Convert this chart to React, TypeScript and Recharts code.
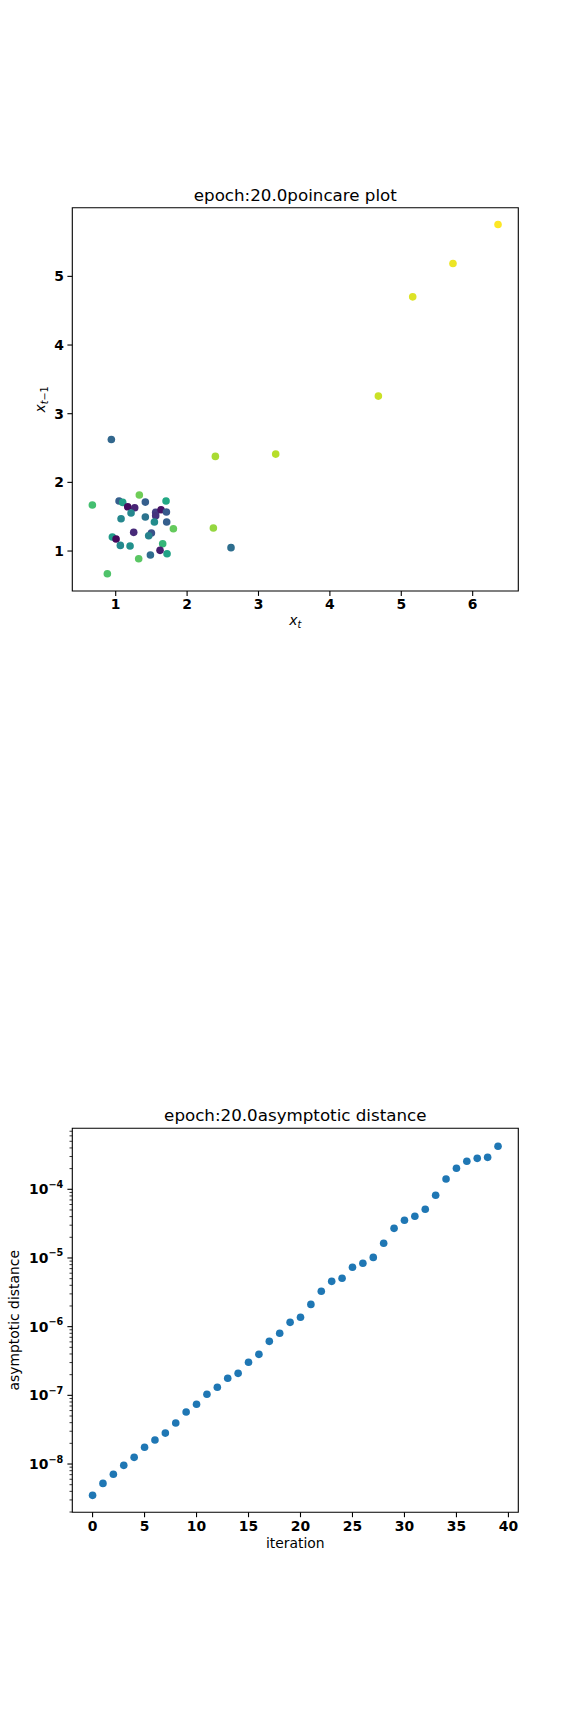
import React from "react";
import { ScatterChart, Scatter, XAxis, YAxis, Cell, ReferenceArea } from "recharts";

// poincare plot: x_t against x_{t-1}
const poincareXt = [
  6.355, 5.724, 5.16, 4.679, 3.241, 2.396, 2.368, 0.939, 2.615, 1.331,
  0.673, 0.883, 1.808, 1.322, 1.705, 1.658, 1.719, 1.047, 1.098, 1.168,
  1.266, 1.415, 1.215, 1.075, 1.415, 1.56, 1.56, 1.635, 1.71, 1.542,
  1.714, 1.252, 1.5, 1.462, 0.953, 1.005, 1.065, 1.201, 1.621, 1.486,
];
const poincareXprev = [
  5.755, 5.187, 4.702, 3.256, 2.412, 2.378, 1.335, 2.625, 1.049, 1.815,
  1.67, 0.67, 1.325, 0.888, 1.728, 1.107, 0.961, 1.728, 1.708, 1.645,
  1.631, 1.713, 1.553, 1.471, 1.495, 1.563, 1.514, 1.602, 1.568, 1.422,
  1.422, 1.272, 1.262, 1.223, 1.204, 1.175, 1.082, 1.073, 1.01, 0.942,
];
// colour value of each point (viridis 0..1)
const poincareLevel = [
  1.0, 0.975, 0.95, 0.92, 0.89, 0.87, 0.84, 0.33, 0.36, 0.78,
  0.7, 0.72, 0.76, 0.74, 0.6, 0.66, 0.58, 0.3, 0.56, 0.03,
  0.1, 0.3, 0.46, 0.46, 0.38, 0.18, 0.15, 0.05, 0.28, 0.48,
  0.3, 0.12, 0.25, 0.44, 0.54, 0.02, 0.47, 0.5, 0.08, 0.35,
];
const xtTicks = [1, 2, 3, 4, 5, 6];
const xprevTicks = [1, 2, 3, 4, 5];

// asymptotic distance per iteration
const iterations = [
  0, 1, 2, 3, 4, 5, 6, 7, 8, 9, 10, 11, 12, 13, 14, 15, 16, 17, 18, 19,
  20, 21, 22, 23, 24, 25, 26, 27, 28, 29, 30, 31, 32, 33, 34, 35, 36, 37, 38, 39,
];
const asymptoticDistance = [
  3.5e-9, 5.22e-9, 7.08e-9, 9.57e-9, 1.25e-8, 1.75e-8, 2.24e-8, 2.82e-8, 3.95e-8, 5.71e-8,
  7.4e-8, 1.035e-7, 1.31e-7, 1.77e-7, 2.09e-7, 3.03e-7, 3.95e-7, 6.11e-7, 8.0e-7, 1.156e-6,
  1.37e-6, 2.11e-6, 3.27e-6, 4.57e-6, 5.06e-6, 7.31e-6, 8.36e-6, 1.02e-5, 1.64e-5, 2.7e-5,
  3.54e-5, 4.05e-5, 5.12e-5, 8.18e-5, 1.41e-4, 2.02e-4, 2.56e-4, 2.82e-4, 2.92e-4, 4.23e-4,
];
const iterationTicks = [0, 5, 10, 15, 20, 25, 30, 35, 40];
const distanceDecades = [-9, -8, -7, -6, -5, -4];

const FONT = "DejaVu Sans";
const TICK_FS = 13.9;

const VIRIDIS = [
  "#440154", "#482475", "#414487", "#355f8d", "#2a788e", "#21918c",
  "#22a884", "#44bf70", "#7ad151", "#bddf26", "#fde725",
];
const hex = (h: string) => [1, 3, 5].map((i) => parseInt(h.slice(i, i + 2), 16));
const viridis = (t: number) => {
  const v = Math.max(0, Math.min(1, t)) * (VIRIDIS.length - 1);
  const i = Math.min(Math.floor(v), VIRIDIS.length - 2);
  const f = v - i;
  const a = hex(VIRIDIS[i]);
  const b = hex(VIRIDIS[i + 1]);
  const c = a.map((av, k) => Math.round(av + (b[k] - av) * f));
  return `rgb(${c[0]},${c[1]},${c[2]})`;
};

const poincareData = poincareXt.map((x, i) => ({
  x,
  y: poincareXprev[i],
  color: viridis(poincareLevel[i]),
}));
const distanceData = iterations.map((x, i) => ({ x, y: asymptoticDistance[i] }));

const xtDomain = [0.392, 6.639];
const xprevDomain = [0.418, 6.0];
const iterDomain = [-1.95, 40.95];
const distDomain = [Math.pow(10, -8.703), Math.pow(10, -3.112)];

const logTicks: number[] = [];
distanceDecades.forEach((d) => {
  for (let m = 1; m <= 9; m++) {
    const v = m * Math.pow(10, d);
    if (v >= distDomain[0] && v <= distDomain[1]) logTicks.push(v);
  }
});

const Dot = (props: any) => (
  <circle cx={props.cx} cy={props.cy} r={3.8} fill={props.payload?.color ?? props.fill} />
);

const BottomTick = (props: any) => {
  const { x, y, payload } = props;
  return (
    <g>
      <line x1={x} x2={x} y1={y} y2={y + 4.9} stroke="#000" strokeWidth={1.1} />
      <text x={x} y={y + 18.3} textAnchor="middle" fontFamily={FONT} fontWeight="bold" fontSize={TICK_FS} fill="#000">
        {payload.value}
      </text>
    </g>
  );
};

const LeftTick = (props: any) => {
  const { x, y, payload } = props;
  return (
    <g>
      <line x1={x - 4.9} x2={x} y1={y} y2={y} stroke="#000" strokeWidth={1.1} />
      <text x={x - 8.5} y={y + 5} textAnchor="end" fontFamily={FONT} fontWeight="bold" fontSize={TICK_FS} fill="#000">
        {payload.value}
      </text>
    </g>
  );
};

const LogTick = (props: any) => {
  const { x, y, payload } = props;
  const e = Math.log10(payload.value);
  const major = Math.abs(e - Math.round(e)) < 1e-6;
  if (!major) {
    return <line x1={x - 2.8} x2={x} y1={y} y2={y} stroke="#000" strokeWidth={0.8} />;
  }
  return (
    <g>
      <line x1={x - 4.9} x2={x} y1={y} y2={y} stroke="#000" strokeWidth={1.1} />
      <text x={x - 9} y={y + 5} textAnchor="end" fontFamily={FONT} fontWeight="bold" fontSize={TICK_FS} fill="#000">
        <tspan>10</tspan>
        <tspan dy={-6.5} fontSize={9.7}>{"\u2212" + Math.abs(Math.round(e))}</tspan>
      </text>
    </g>
  );
};

const App: React.FC = () => {
  return (
    <div style={{ position: "absolute", left: 0, top: 0, width: 576, height: 1728, background: "#fff" }}>
      <div style={{ position: "absolute", left: 0, top: 0 }}>
        <ScatterChart width={576} height={640} margin={{ top: 207.7, right: 57.7, bottom: 9, left: 0 }}>
          <XAxis
            dataKey="x"
            type="number"
            domain={xtDomain}
            allowDataOverflow
            ticks={xtTicks}
            interval={0}
            height={40}
            axisLine={false}
            tickLine={false}
            tickSize={0}
            tickMargin={0}
            tick={BottomTick}
          />
          <YAxis
            dataKey="y"
            type="number"
            domain={xprevDomain}
            allowDataOverflow
            ticks={xprevTicks}
            interval={0}
            width={72.3}
            axisLine={false}
            tickLine={false}
            tickSize={0}
            tickMargin={0}
            tick={LeftTick}
          />
          <ReferenceArea
            x1={xtDomain[0]}
            x2={xtDomain[1]}
            y1={xprevDomain[0]}
            y2={xprevDomain[1]}
            fill="none"
            stroke="#000"
            strokeWidth={1.1}
            ifOverflow="visible"
          />
          <Scatter data={poincareData} shape={Dot} isAnimationActive={false}>
            {poincareData.map((p, i) => (
              <Cell key={i} fill={p.color} />
            ))}
          </Scatter>
        </ScatterChart>
      </div>

      <div style={{ position: "absolute", left: 0, top: 920 }}>
        <ScatterChart width={576} height={640} margin={{ top: 208.3, right: 57.7, bottom: 7.7, left: 0 }}>
          <XAxis
            dataKey="x"
            type="number"
            domain={iterDomain}
            allowDataOverflow
            ticks={iterationTicks}
            interval={0}
            height={40}
            axisLine={false}
            tickLine={false}
            tickSize={0}
            tickMargin={0}
            tick={BottomTick}
          />
          <YAxis
            dataKey="y"
            type="number"
            scale="log"
            domain={distDomain}
            allowDataOverflow
            ticks={logTicks}
            interval={0}
            width={72.3}
            axisLine={false}
            tickLine={false}
            tickSize={0}
            tickMargin={0}
            tick={LogTick}
          />
          <ReferenceArea
            x1={iterDomain[0]}
            x2={iterDomain[1]}
            y1={distDomain[0]}
            y2={distDomain[1]}
            fill="none"
            stroke="#000"
            strokeWidth={1.1}
            ifOverflow="visible"
          />
          <Scatter data={distanceData} fill="#1f77b4" shape={Dot} isAnimationActive={false} />
        </ScatterChart>
      </div>

      {/* titles and axis labels */}
      <svg width={576} height={1728} style={{ position: "absolute", left: 0, top: 0, pointerEvents: "none" }}>
        <g fontFamily={FONT} fill="#000">
          <text x={295.3} y={200.5} textAnchor="middle" fontSize={16.7}>epoch:20.0poincare plot</text>
          <text x={295.3} y={625} textAnchor="middle" fontSize={TICK_FS}>
            <tspan fontStyle="italic">x</tspan>
            <tspan dy={3} fontSize={9.7} fontStyle="italic">t</tspan>
          </text>
          <text transform="translate(45,399.4) rotate(-90)" textAnchor="middle" fontSize={TICK_FS}>
            <tspan fontStyle="italic">x</tspan>
            <tspan dy={3} fontSize={9.7} fontStyle="italic">t</tspan>
            <tspan fontSize={9.7}>{"\u2212"}1</tspan>
          </text>

          <text x={295.3} y={1120.5} textAnchor="middle" fontSize={16.7}>epoch:20.0asymptotic distance</text>
          <text x={295.3} y={1547.5} textAnchor="middle" fontSize={TICK_FS}>iteration</text>
          <text transform="translate(18.5,1320.3) rotate(-90)" textAnchor="middle" fontSize={TICK_FS}>
            asymptotic distance
          </text>
        </g>
      </svg>
    </div>
  );
};

export default App;
